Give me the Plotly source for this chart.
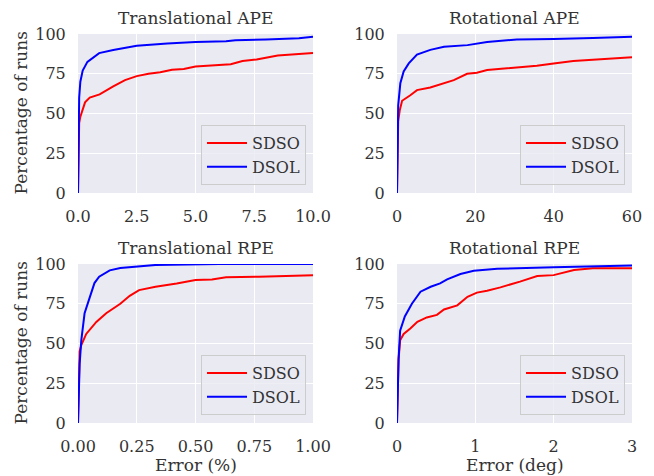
import plotly.graph_objects as go

# ---------------- data ----------------
tape_sdso_x = [0, 0.02, 0.05, 0.1, 0.2, 0.3, 0.5, 0.92, 1.5, 2.0, 2.5, 3.0, 3.5, 4.0, 4.5, 5.0, 6.0, 6.5, 7.0, 7.6, 8.5, 9.0, 10.0]
tape_sdso_y = [0, 35, 44, 48, 52, 57, 60, 62, 67, 71, 73.5, 75, 76, 77.5, 78, 79.5, 80.5, 81, 83, 84, 86.5, 87, 88]
tape_dsol_x = [0, 0.02, 0.05, 0.1, 0.2, 0.4, 0.9, 1.5, 2.5, 3.8, 5.0, 6.3, 6.7, 8.0, 9.4, 10.0]
tape_dsol_y = [0, 45, 60, 70, 77, 82.5, 88, 90, 92.6, 94, 95, 95.5, 96, 96.5, 97.3, 98.3]

rape_sdso_x = [0, 0.1, 0.3, 0.7, 1.3, 3.4, 5.1, 8.5, 11.9, 14.5, 17.9, 20.4, 23, 30.6, 35.7, 40, 45, 60]
rape_sdso_y = [0, 30, 45, 52, 58, 61.5, 64.7, 66.4, 69, 71, 75, 75.6, 77.3, 78.8, 80, 81.5, 83, 85.3]
rape_dsol_x = [0, 0.1, 0.3, 0.85, 1.7, 3.0, 5.1, 8.5, 12, 18, 23, 30.6, 40, 50, 60]
rape_dsol_y = [0, 35, 55, 69, 76.5, 81.5, 87, 90, 92, 93, 95, 96.6, 96.8, 97.5, 98.3]

trpe_sdso_x = [0, 0.003, 0.007, 0.014, 0.035, 0.078, 0.12, 0.18, 0.22, 0.26, 0.33, 0.42, 0.5, 0.57, 0.63, 0.77, 1.0]
trpe_sdso_y = [0, 30, 45, 49, 56, 63.6, 69, 75, 80, 83.6, 85.7, 87.8, 90, 90.3, 91.6, 92, 93]
trpe_dsol_x = [0, 0.003, 0.007, 0.014, 0.028, 0.05, 0.07, 0.09, 0.135, 0.18, 0.23, 0.33, 0.6, 1.0]
trpe_dsol_y = [0, 25, 37, 52, 69, 79, 88, 92, 96, 97.5, 98, 99.4, 100, 100]

rrpe_sdso_x = [0, 0.01, 0.02, 0.04, 0.085, 0.17, 0.26, 0.38, 0.51, 0.6, 0.77, 0.9, 1.02, 1.15, 1.32, 1.57, 1.79, 2.0, 2.26, 2.5, 3.0]
rrpe_sdso_y = [0, 25, 40, 52, 56, 59.5, 63.6, 66.4, 68, 71.4, 74, 79.4, 82, 83.2, 85.3, 88.9, 92.4, 93, 96.2, 97.3, 97.3]
rrpe_dsol_x = [0, 0.01, 0.02, 0.04, 0.1, 0.19, 0.3, 0.43, 0.55, 0.64, 0.81, 0.98, 1.28, 2.0, 2.64, 3.0]
rrpe_dsol_y = [0, 25, 40, 58, 67, 75, 82.6, 85.7, 87.8, 90.3, 93.7, 95.8, 97, 97.9, 98.7, 99]

titles = ["Translational APE", "Rotational APE", "Translational RPE", "Rotational RPE"]
x_ranges = [[0, 10], [0, 60], [0, 1], [0, 3]]
x_ticks = [[0, 2.5, 5, 7.5, 10], [0, 20, 40, 60], [0, 0.25, 0.5, 0.75, 1.0], [0, 1, 2, 3]]
x_fmt = [".1f", "d", ".2f", "d"]
y_ticks = [0, 25, 50, 75, 100]
series_names = ["SDSO", "DSOL"]
series_colors = ["#ff0000", "#0000ff"]

panels = [
    (tape_sdso_x, tape_sdso_y, tape_dsol_x, tape_dsol_y),
    (rape_sdso_x, rape_sdso_y, rape_dsol_x, rape_dsol_y),
    (trpe_sdso_x, trpe_sdso_y, trpe_dsol_x, trpe_dsol_y),
    (rrpe_sdso_x, rrpe_sdso_y, rrpe_dsol_x, rrpe_dsol_y),
]

# ---------------- layout ----------------
W, H = 654, 476
FONT = "DejaVu Serif"
TXT = "#333333"
TICK = 16
LAB = 17
px_x = [(78, 313), (397, 632)]
px_y = [(34, 193), (264, 423)]

fig = go.Figure()
layout = dict(
    width=W, height=H, margin=dict(l=0, r=0, t=0, b=0, autoexpand=False),
    paper_bgcolor="white", plot_bgcolor="#EAEAF2",
    font=dict(family=FONT, size=TICK, color=TXT),
    showlegend=True,
)
annotations = []
for i, (sx, sy, dx, dy) in enumerate(panels):
    r, c = divmod(i, 2)
    ax = "" if i == 0 else str(i + 1)
    xa, ya = "x" + ax, "y" + ax
    lg = "legend" if i == 0 else "legend" + str(i + 1)
    for nm, col, xs, ys in [(series_names[0], series_colors[0], sx, sy), (series_names[1], series_colors[1], dx, dy)]:
        fig.add_trace(go.Scatter(x=xs, y=ys, mode="lines", name=nm,
                                 line=dict(color=col, width=2, shape="linear"),
                                 xaxis=xa, yaxis=ya, legend=lg))
    x0, x1 = px_x[c]
    y0, y1 = px_y[r]
    xd = [x0 / W, x1 / W]
    yd = [1 - y1 / H, 1 - y0 / H]
    layout["xaxis" + ax] = dict(domain=xd, range=x_ranges[i], tickvals=x_ticks[i], tickformat=x_fmt[i],
                               showgrid=True, gridcolor="white", gridwidth=1.3, zeroline=False,
                               showline=False, ticks="outside", ticklen=9, tickcolor="rgba(0,0,0,0)",
                               anchor=ya, automargin=False,
                               tickfont=dict(size=TICK, color=TXT, family=FONT))
    layout["yaxis" + ax] = dict(domain=yd, range=[0, 100], tickvals=y_ticks,
                               showgrid=True, gridcolor="white", gridwidth=1.3, zeroline=False,
                               showline=False, ticks="outside", ticklen=8, tickcolor="rgba(0,0,0,0)",
                               anchor=xa, automargin=False,
                               tickfont=dict(size=TICK, color=TXT, family=FONT))
    layout[lg] = dict(x=(x1 - 7) / W, y=1 - (y1 - 8) / H, xanchor="right", yanchor="bottom",
                      xref="paper", yref="paper",
                      bgcolor="rgba(234,234,242,0.8)", bordercolor="#cccccc", borderwidth=1,
                      font=dict(size=TICK, color=TXT, family=FONT), itemwidth=40,
                      tracegroupgap=0)
    annotations.append(dict(text=titles[i], x=(x0 + x1) / 2 / W, y=1 - (y0 - 16) / H,
                            xref="paper", yref="paper", showarrow=False,
                            xanchor="center", yanchor="middle",
                            font=dict(size=LAB, color=TXT, family=FONT)))
    if c == 0:
        annotations.append(dict(text="Percentage of runs", x=20 / W, y=1 - ((y0 + y1) / 2) / H,
                                xref="paper", yref="paper", showarrow=False, textangle=-90,
                                xanchor="center", yanchor="middle",
                                font=dict(size=LAB, color=TXT, family=FONT)))
    if r == 1:
        annotations.append(dict(text=["Error (%)", "Error (deg)"][c], x=(x0 + x1) / 2 / W, y=1 - 465 / H,
                                xref="paper", yref="paper", showarrow=False,
                                xanchor="center", yanchor="middle",
                                font=dict(size=LAB, color=TXT, family=FONT)))
layout["annotations"] = annotations
fig.update_layout(**layout)
fig.write_html("out.html", config={"displayModeBar": False},
               post_script="document.body.style.margin='0';document.body.style.overflow='hidden';")
